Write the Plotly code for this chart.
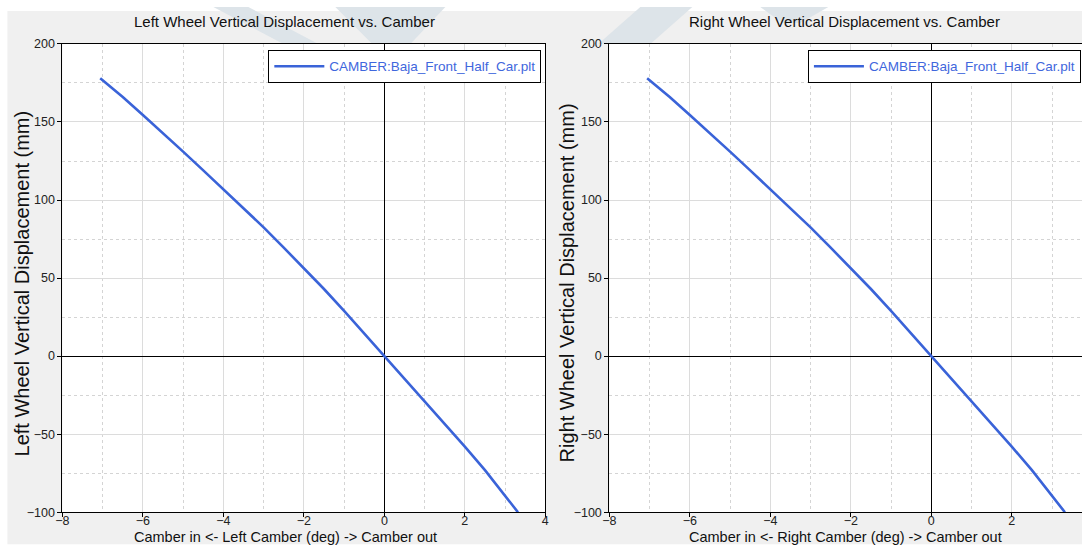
import plotly.graph_objects as go

# ---- data ----
camber_left = [-7.06, -6.8, -6.5, -6.0, -5.5, -5.0, -4.5, -4.0, -3.5, -3.0, -2.5, -2.0, -1.5, -1.0, -0.5, 0.0,
               0.5, 1.0, 1.5, 2.0, 2.5, 3.0, 3.32]
disp_left = [178, 172.5, 166, 154.5, 143, 131, 119, 107, 95, 82.5, 69.5, 56.5, 43, 29, 14.5, 0,
             -14, -28.5, -43, -58, -73, -89, -100]
camber_right = list(camber_left)
disp_right = list(disp_left)

series_name = "CAMBER:Baja_Front_Half_Car.plt"
titles = ["Left Wheel Vertical Displacement vs. Camber", "Right Wheel Vertical Displacement vs. Camber"]
x_titles = ["Camber in <- Left Camber (deg) -> Camber out", "Camber in <- Right Camber (deg) -> Camber out"]
y_titles = ["Left Wheel Vertical Displacement (mm)", "Right Wheel Vertical Displacement (mm)"]
x_ticks = [-8, -6, -4, -2, 0, 2, 4]
y_ticks = [-100, -50, 0, 50, 100, 150, 200]

W, H = 1086, 552
# map a target picture position to figure-paper coordinates
def page_x(x):
    return (x - 6.6) / 0.99
def page_y(y):
    return (y - 6.1) / 0.974
def tx(x):
    return min(max(page_x(x) / W, 0.0), 1.0)
def ty(y):
    return min(max(1 - page_y(y) / H, 0.0), 1.0)

LINE = "#3a63d8"
FONT = "Liberation Sans, Arial, sans-serif"

fig = go.Figure()
fig.add_trace(go.Scatter(x=camber_left, y=disp_left, mode="lines", name=series_name,
                         line=dict(color=LINE, width=2.6), xaxis="x", yaxis="y", legend="legend"))
fig.add_trace(go.Scatter(x=camber_right, y=disp_right, mode="lines", name=series_name,
                         line=dict(color=LINE, width=2.6), xaxis="x2", yaxis="y2", legend="legend2"))

L1, R1, L2 = 62, 545, 609
top, bottom = 43, 511

def xax(d0, d1, rng):
    return dict(domain=[d0, d1], range=rng, tickvals=x_ticks, showline=True,
                linecolor="black", linewidth=1, mirror=True, ticks="outside", ticklen=4,
                tickcolor="black", showgrid=True, gridcolor="#dcdcdc", gridwidth=1,
                zeroline=True, zerolinecolor="black", zerolinewidth=1, ticklabelstandoff=-7,
                minor=dict(dtick=1, showgrid=True, gridcolor="#d4d4d4", griddash="dot", gridwidth=1),
                tickfont=dict(family=FONT, size=12.5, color="#222"), fixedrange=True)

def yax(anchor, mirror):
    return dict(domain=[ty(bottom), ty(top)], range=[-100, 200], tickvals=y_ticks, anchor=anchor,
                showline=True, linecolor="black", linewidth=1, mirror=mirror, ticks="outside", ticklen=4,
                tickcolor="black", showgrid=True, gridcolor="#dcdcdc", gridwidth=1,
                zeroline=True, zerolinecolor="black", zerolinewidth=1,
                minor=dict(dtick=25, showgrid=True, gridcolor="#d4d4d4", griddash="dot", gridwidth=1),
                tickfont=dict(family=FONT, size=12.5, color="#222"), fixedrange=True)

unit = (page_x(R1) - page_x(L1)) / 12.0
x2_end = -8 + (W - page_x(L2)) / unit

fig.update_layout(
    width=W, height=H, margin=dict(l=0, r=0, t=0, b=0), autosize=False,
    paper_bgcolor="white", plot_bgcolor="rgba(0,0,0,0)",
    xaxis=dict(xax(tx(L1), tx(R1), [-8, 4]), anchor="y"),
    yaxis=yax("x", True),
    xaxis2=dict(xax(tx(L2), 1.0, [-8, x2_end]), anchor="y2"),
    yaxis2=yax("x2", False),
    font=dict(family=FONT, color="black"),
    showlegend=True,
)

for key, right_edge in (("legend", 541), ("legend2", 1082)):
    fig.layout[key] = dict(x=min(tx(right_edge), 0.999), xanchor="right", y=ty(49), yanchor="top",
                           bgcolor="white", bordercolor="black", borderwidth=1,
                           font=dict(family=FONT, size=13.5, color="#3f67dd"),
                           itemwidth=50, tracegroupgap=0)

shapes = []
# grey panel background
shapes.append(dict(type="rect", xref="paper", yref="paper", x0=tx(7), x1=1.0, y0=ty(543), y1=ty(10),
                   fillcolor="#f0f0f0", line=dict(width=0), layer="below"))
# faint watermark fragments
wm = "#dde4e9"
polys = [
    [(213, 0), (248, 0), (318, 43), (283, 43)],
    [(335, 0), (445, 0), (410, 43), (372, 43)],
    [(640, 0), (692, 0), (650, 43), (598, 43)],
    [(760, 0), (828, 0), (800, 22), (782, 22)],
]
for poly in polys:
    path = "M " + " L ".join(f"{tx(x):.5f},{ty(y):.5f}" for x, y in poly) + " Z"
    shapes.append(dict(type="path", xref="paper", yref="paper", path=path,
                       fillcolor=wm, line=dict(width=0), layer="below"))
# white plot areas
for (l, r) in ((tx(L1), tx(R1)), (tx(L2), 1.0)):
    shapes.append(dict(type="rect", xref="paper", yref="paper", x0=l, x1=r, y0=ty(bottom), y1=ty(top),
                       fillcolor="white", line=dict(width=0), layer="below"))
fig.update_layout(shapes=shapes)

ann = []
title_cx = [284, 844]
xt_cx = [285, 845]
yt_x = [22, 567]
for i in range(2):
    ann.append(dict(text=titles[i], x=tx(title_cx[i]), y=ty(21), xref="paper", yref="paper", showarrow=False,
                    xanchor="center", yanchor="middle", font=dict(family=FONT, size=15, color="#111")))
    ann.append(dict(text=x_titles[i], x=tx(xt_cx[i]), y=ty(536), xref="paper", yref="paper", showarrow=False,
                    xanchor="center", yanchor="middle", font=dict(family=FONT, size=14.5, color="#111")))
    ann.append(dict(text=y_titles[i], x=tx(yt_x[i]), y=ty(282), xref="paper", yref="paper", showarrow=False,
                    xanchor="center", yanchor="middle", textangle=-90,
                    font=dict(family=FONT, size=20, color="#111")))
fig.update_layout(annotations=ann)

fig.write_html("out.html", config={"responsive": False, "displayModeBar": False},
               post_script="document.body.style.margin='0';document.body.style.overflow='hidden';")
